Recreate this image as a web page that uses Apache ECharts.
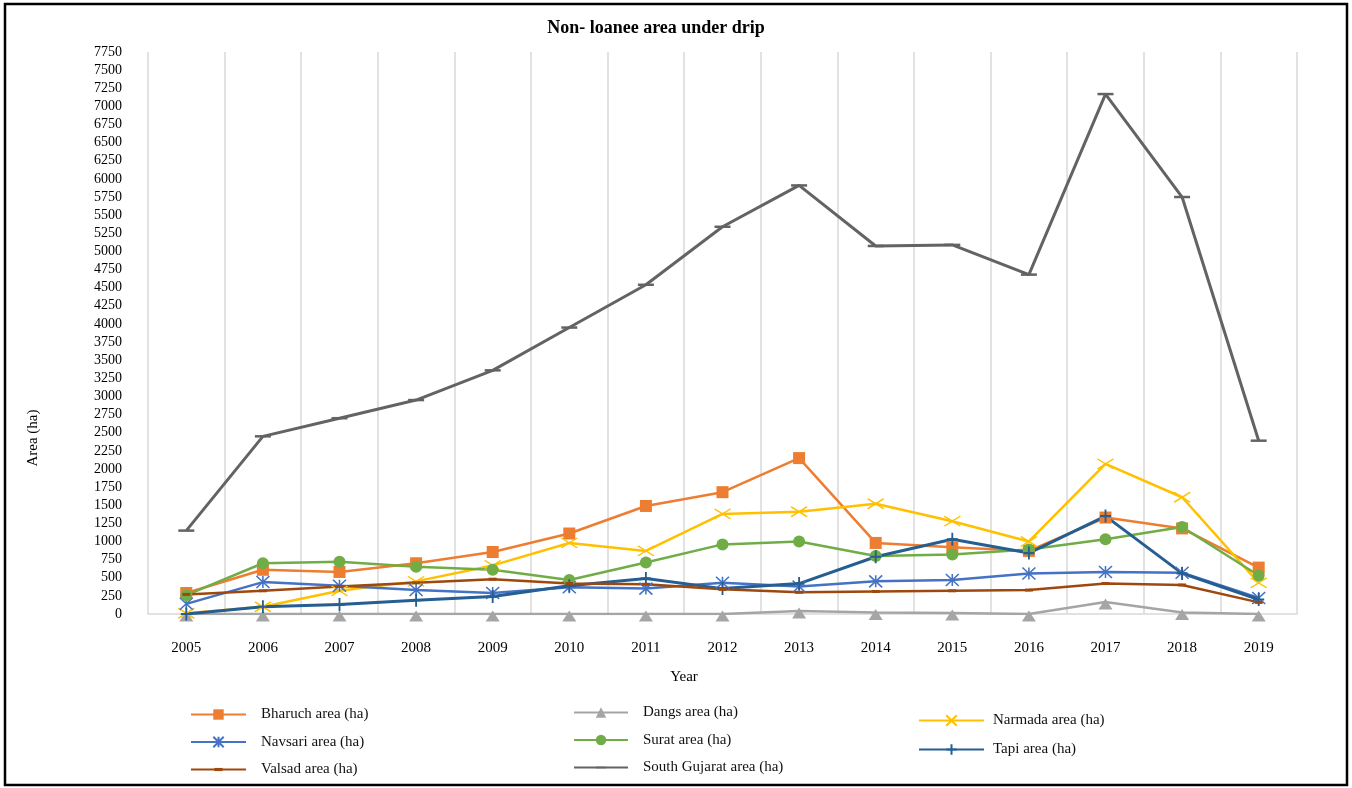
<!DOCTYPE html>
<html>
<head>
<meta charset="utf-8">
<script src="https://cdn.jsdelivr.net/npm/echarts@6/dist/echarts.min.js"></script>
<style>
html,body{margin:0;padding:0;background:#fff;}
#chart{width:1352px;height:788px;}
</style>
</head>
<body>
<div id="chart"></div>
<script>
const years = ['2005','2006','2007','2008','2009','2010','2011','2012','2013','2014','2015','2016','2017','2018','2019'];
const yTickMin = 0;
const yTickMax = 7750;
const yTickStep = 250;

const bharuch = [290, 610, 580, 700, 855, 1110, 1490, 1680, 2150, 980, 920, 870, 1330, 1180, 640];
const dangs = [0, 0, 0, 0, 0, 0, 0, 0, 40, 20, 15, 0, 165, 20, 0];
const narmada = [10, 100, 320, 450, 670, 980, 870, 1380, 1410, 1520, 1280, 1000, 2070, 1610, 430];
const navsari = [140, 440, 390, 330, 290, 370, 350, 430, 380, 450, 470, 560, 580, 570, 220];
const surat = [260, 700, 720, 650, 610, 470, 710, 960, 1000, 800, 820, 890, 1030, 1200, 530];
const tapi = [0, 100, 130, 190, 240, 390, 490, 350, 420, 790, 1030, 840, 1350, 560, 200];
const valsad = [270, 320, 380, 430, 480, 420, 410, 340, 300, 310, 320, 330, 420, 400, 160];
const southGujarat = [1150, 2450, 2700, 2950, 3360, 3950, 4540, 5340, 5910, 5075, 5090, 4680, 7170, 5750, 2390];

const names = {
  bharuch: 'Bharuch area (ha)',
  dangs: 'Dangs area (ha)',
  narmada: 'Narmada area (ha)',
  navsari: 'Navsari area (ha)',
  surat: 'Surat area (ha)',
  tapi: 'Tapi area (ha)',
  valsad: 'Valsad area (ha)',
  sg: 'South Gujarat area (ha)'
};

const FONT = '"Liberation Serif", "Times New Roman", serif';

function mk(name, data, color, symbol, size, opts) {
  opts = opts || {};
  return Object.assign({
    type: 'line',
    name: name,
    data: data,
    symbol: symbol,
    symbolSize: size,
    showSymbol: true,
    lineStyle: { color: color, width: opts.lw || 2.5 },
    itemStyle: Object.assign({ color: color, borderColor: color, borderWidth: opts.bw || 0 }, opts.itemStyle || {}),
    emphasis: { disabled: true },
    animation: false
  }, opts.extra || {});
}

const series = [
  mk(names.bharuch, bharuch, '#ED7D31', 'rect', 12),
  mk(names.dangs, dangs, '#A5A5A5', 'triangle', [14, 11], { extra: { symbolOffset: [0, 2] } }),
  mk(names.narmada, narmada, '#FFC000', 'path://M0,0L16,10M16,0L0,10', [16, 10], { bw: 1.5 }),
  mk(names.navsari, navsari, '#4472C4', 'path://M0,0L12,12M12,0L0,12M6,0L6,12', [13, 12], { bw: 1.5 }),
  mk(names.surat, surat, '#70AD47', 'circle', 12),
  mk(names.tapi, tapi, '#255E91', 'path://M6,0L6,12M1,6L11,6', [11, 13], { bw: 2, lw: 3 }),
  mk(names.valsad, valsad, '#9E480E', 'path://M0,0M10,10M1,3.5L9,3.5L9,6.5L1,6.5Z', 10),
  mk(names.sg, southGujarat, '#636363', 'path://M0,0M16,16M0,6.75L16,6.75L16,9.25L0,9.25Z', 16, { lw: 3 })
];

const legendText = { fontFamily: FONT, fontSize: 15, color: '#111', lineHeight: 14 };

const option = {
  backgroundColor: '#fff',
  animation: false,
  title: {
    text: 'Non- loanee area under drip',
    left: 651,
    top: 14,
    textAlign: 'center',
    textStyle: { fontFamily: FONT, fontSize: 18, fontWeight: 'bold', color: '#000' }
  },
  grid: { left: 148, right: 55, top: 52, bottom: 174, containLabel: false },
  xAxis: {
    type: 'category',
    data: years,
    boundaryGap: true,
    axisLine: { show: true, lineStyle: { color: '#d9d9d9', width: 1.5 } },
    axisTick: { show: false },
    axisLabel: { fontFamily: FONT, fontSize: 15, color: '#000', margin: 27 },
    splitLine: { show: true, lineStyle: { color: '#d9d9d9', width: 1.5 } }
  },
  yAxis: {
    type: 'value',
    min: yTickMin,
    max: yTickMax,
    interval: yTickStep,
    axisLine: { show: false },
    axisTick: { show: false },
    splitLine: { show: false },
    axisLabel: { fontFamily: FONT, fontSize: 14, color: '#000', margin: 26, formatter: function (v) { return String(v); } }
  },
  legend: [
    {
      data: [names.bharuch, names.navsari, names.valsad],
      orient: 'vertical', left: 185, top: 702,
      itemWidth: 55, itemHeight: 13, itemGap: 12.5,
      textStyle: Object.assign({ padding: [0, 0, 0, 10] }, legendText)
    },
    {
      data: [names.dangs, names.surat, names.sg],
      orient: 'vertical', left: 568, top: 700,
      itemWidth: 54, itemHeight: 13, itemGap: 12.5,
      textStyle: Object.assign({ padding: [0, 0, 0, 10] }, legendText)
    },
    {
      data: [names.narmada, names.tapi],
      orient: 'vertical', left: 913, top: 708,
      itemWidth: 65, itemHeight: 13, itemGap: 14,
      textStyle: Object.assign({ padding: [0, 0, 0, 4] }, legendText)
    }
  ],
  graphic: [
    {
      type: 'rect',
      shape: { x: 5, y: 4, width: 1342, height: 781 },
      style: { fill: 'none', stroke: '#000', lineWidth: 2.5 },
      silent: true
    },
    {
      type: 'text',
      x: 684, y: 677,
      style: { text: 'Year', fontFamily: FONT, fontSize: 15, fill: '#000', align: 'center', verticalAlign: 'middle' },
      silent: true
    },
    {
      type: 'text',
      x: 33, y: 438,
      rotation: Math.PI / 2,
      style: { text: 'Area (ha)', fontFamily: FONT, fontSize: 15, fill: '#000', align: 'center', verticalAlign: 'middle' },
      silent: true
    }
  ],
  series: series
};

const chart = echarts.init(document.getElementById('chart'), null, { renderer: 'canvas' });
chart.setOption(option);
</script>
</body>
</html>
